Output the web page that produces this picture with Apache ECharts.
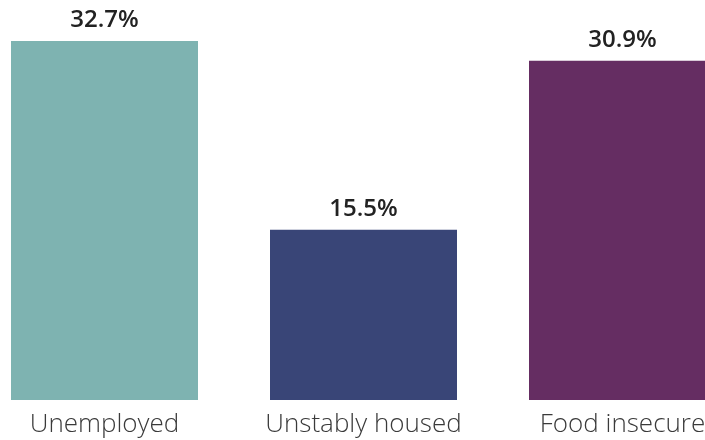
<!DOCTYPE html>
<html>
<head>
<meta charset="utf-8">
<script src="https://cdn.jsdelivr.net/npm/echarts@6/dist/echarts.min.js"></script>
<style>
  html, body { margin: 0; padding: 0; background: #fff; }
  #main { width: 705px; height: 440px; }
</style>
</head>
<body>
<div id="main"></div>
<script>
// 数据
var categories = ['Unemployed', 'Unstably housed', 'Food insecure'];
var values = [32.7, 15.5, 30.9];
var barColors = ['#7eb3b1', '#394577', '#652d62'];

var myChart = echarts.init(document.getElementById('main'));

var option = {
    backgroundColor: '#ffffff',
    animation: false,
    grid: {
        left: -25,
        width: 777,
        top: 0,
        bottom: 40,
        containLabel: false,
        outerBoundsMode: 'none'
    },
    xAxis: {
        type: 'category',
        data: categories,
        axisLine: { show: false },
        axisTick: { show: false },
        axisLabel: {
            interval: 0,
            margin: 12,
            fontFamily: 'Open Sans',
            fontWeight: 300,
            fontSize: 26,
            color: '#3a3a3a'
        }
    },
    yAxis: {
        type: 'value',
        min: 0,
        max: 36.43,
        show: false
    },
    series: [{
        type: 'bar',
        barWidth: 187,
        data: values.map(function (v, i) {
            return { value: v, itemStyle: { color: barColors[i] } };
        }),
        label: {
            show: true,
            position: 'top',
            distance: 9,
            formatter: function (p) { return p.value.toFixed(1) + '%'; },
            fontFamily: 'Open Sans',
            fontWeight: 600,
            fontSize: 24,
            color: '#222222'
        }
    }]
};

myChart.setOption(option);
</script>
</body>
</html>
